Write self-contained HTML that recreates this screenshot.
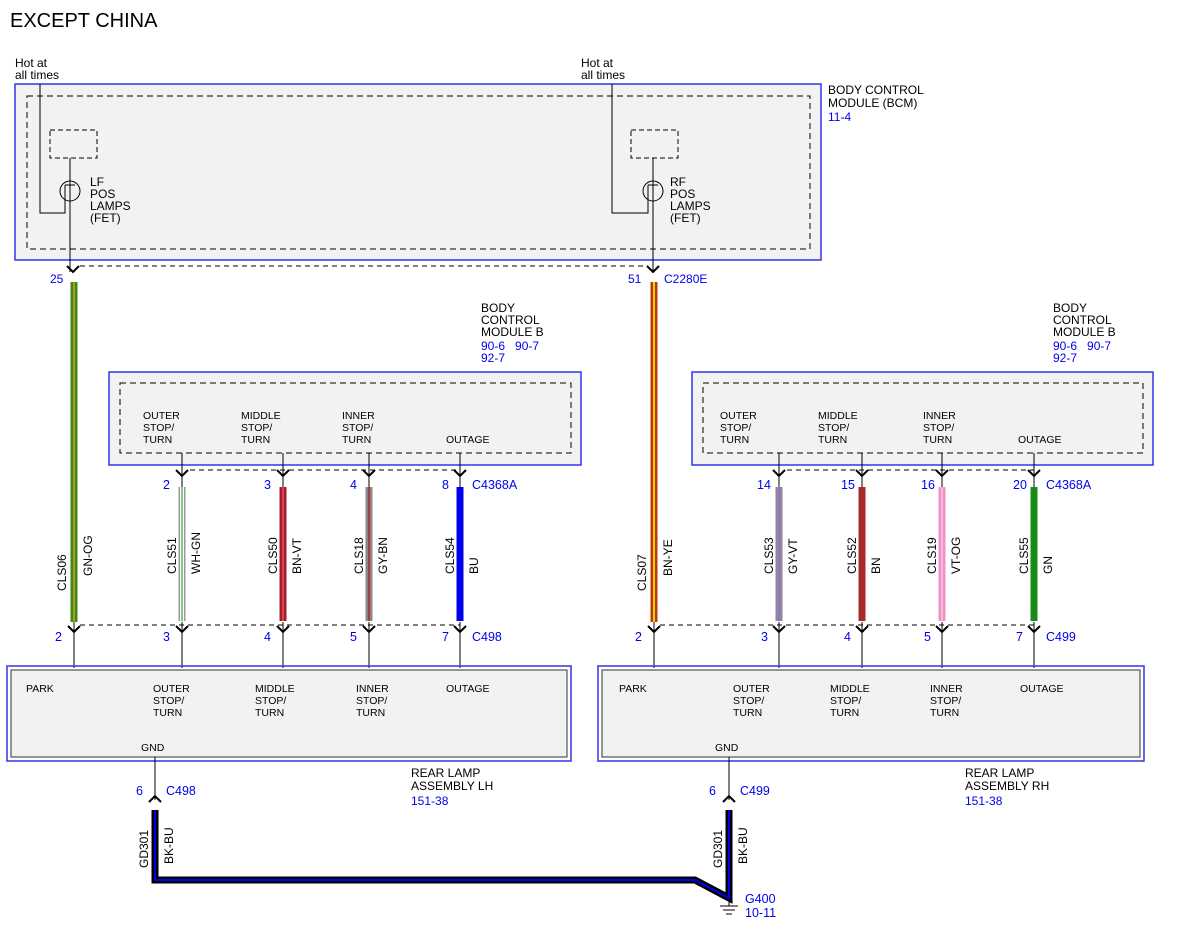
<!DOCTYPE html>
<html><head><meta charset="utf-8"><style>
body{margin:0;background:#fff}
svg{display:block;font-family:"Liberation Sans",sans-serif;font-size:12px}
.b{fill:#0000ee}
.k{fill:#000}
</style></head><body>
<svg width="1200" height="927" viewBox="0 0 1200 927">
<defs>
<g id="dn"><path d="M-6,-6 L0,0 L6,-6" fill="none" stroke="#000" stroke-width="2"/></g>
</defs>
<text x="10" y="27" font-size="20" class="k">EXCEPT CHINA</text>

<rect x="15" y="84" width="806" height="176" fill="#f2f2f2" stroke="#3333ee" stroke-width="1.5"/>
<rect x="27" y="96" width="783" height="153" fill="none" stroke="#000" stroke-dasharray="6,4"/>
<text x="15" y="67">Hot at</text><text x="15" y="79">all times</text>
<text x="581" y="67">Hot at</text><text x="581" y="79">all times</text>
<text x="828" y="94">BODY CONTROL</text><text x="828" y="107">MODULE (BCM)</text><text x="828" y="121" class="b">11-4</text>
<g fill="none" stroke="#000">
<rect x="50" y="130" width="47" height="28" stroke-dasharray="5,3"/>
<rect x="631" y="130" width="47" height="28" stroke-dasharray="5,3"/>
<path d="M40,84V213H65V185"/><circle cx="70" cy="191" r="10"/><path d="M65,185H75M70,158V272"/>
<path d="M612,84V213H648V185"/><circle cx="653" cy="191" r="10"/><path d="M648,185H658M653,158V272"/>
<path d="M80,266H648" stroke-dasharray="5,4"/>
</g>
<text x="90" y="186">LF</text><text x="90" y="198">POS</text><text x="90" y="210">LAMPS</text><text x="90" y="222">(FET)</text>
<text x="670" y="186">RF</text><text x="670" y="198">POS</text><text x="670" y="210">LAMPS</text><text x="670" y="222">(FET)</text>
<use href="#dn" x="73" y="272"/><use href="#dn" x="653" y="272"/>
<text x="50" y="283" class="b">25</text><text x="628" y="283" class="b">51</text><text x="664" y="283" class="b">C2280E</text>

<line x1="74" y1="282" x2="74" y2="622" stroke="#3a8a1a" stroke-width="7"/>
<line x1="74" y1="282" x2="74" y2="622" stroke="#d8a020" stroke-width="1.5"/>
<line x1="654" y1="282" x2="654" y2="622" stroke="#b83a10" stroke-width="7"/>
<line x1="654" y1="282" x2="654" y2="622" stroke="#f0d000" stroke-width="2"/>
<text transform="translate(66,591) rotate(-90)">CLS06</text><text transform="translate(92,576) rotate(-90)">GN-OG</text>
<text transform="translate(646,591) rotate(-90)">CLS07</text><text transform="translate(672,576) rotate(-90)">BN-YE</text>

<text x="481" y="312">BODY</text><text x="481" y="324">CONTROL</text><text x="481" y="336">MODULE B</text>
<text x="481" y="350" class="b">90-6 &#160;&#160;90-7</text><text x="481" y="362" class="b">92-7</text>
<rect x="109" y="372" width="472" height="93" fill="#f2f2f2" stroke="#3333ee" stroke-width="1.5"/>
<rect x="120" y="383" width="451" height="70" fill="none" stroke="#000" stroke-dasharray="6,4"/>
<g font-size="10.5">
<text x="143" y="419">OUTER</text><text x="143" y="431">STOP/</text><text x="143" y="443">TURN</text>
<text x="241" y="419">MIDDLE</text><text x="241" y="431">STOP/</text><text x="241" y="443">TURN</text>
<text x="342" y="419">INNER</text><text x="342" y="431">STOP/</text><text x="342" y="443">TURN</text>
<text x="446" y="443">OUTAGE</text>
</g>
<text x="1053" y="312">BODY</text><text x="1053" y="324">CONTROL</text><text x="1053" y="336">MODULE B</text>
<text x="1053" y="350" class="b">90-6 &#160;&#160;90-7</text><text x="1053" y="362" class="b">92-7</text>
<rect x="692" y="372" width="461" height="93" fill="#f2f2f2" stroke="#3333ee" stroke-width="1.5"/>
<rect x="703" y="383" width="440" height="70" fill="none" stroke="#000" stroke-dasharray="6,4"/>
<g font-size="10.5">
<text x="720" y="419">OUTER</text><text x="720" y="431">STOP/</text><text x="720" y="443">TURN</text>
<text x="818" y="419">MIDDLE</text><text x="818" y="431">STOP/</text><text x="818" y="443">TURN</text>
<text x="923" y="419">INNER</text><text x="923" y="431">STOP/</text><text x="923" y="443">TURN</text>
<text x="1018" y="443">OUTAGE</text>
</g>

<g fill="none" stroke="#000">
<path d="M182,453V487M283,453V487M369,453V487M460,453V487M779,453V487M862,453V487M942,453V487M1034,453V487"/>
<path d="M190,470H460M787,470H1034" stroke-dasharray="5,4"/>
<path d="M80,625H460M660,625H1034" stroke-dasharray="5,4"/>
<path d="M74,622V668M182,622V668M283,622V668M369,622V668M460,622V668M654,622V668M779,622V668M862,622V668M942,622V668M1034,622V668"/>
</g>
<g>
<use href="#dn" x="182" y="476"/><use href="#dn" x="283" y="476"/><use href="#dn" x="369" y="476"/><use href="#dn" x="460" y="476"/>
<use href="#dn" x="779" y="476"/><use href="#dn" x="862" y="476"/><use href="#dn" x="942" y="476"/><use href="#dn" x="1034" y="476"/>
<use href="#dn" x="74" y="632"/><use href="#dn" x="182" y="632"/><use href="#dn" x="283" y="632"/><use href="#dn" x="369" y="632"/><use href="#dn" x="460" y="632"/>
<use href="#dn" x="654" y="632"/><use href="#dn" x="779" y="632"/><use href="#dn" x="862" y="632"/><use href="#dn" x="942" y="632"/><use href="#dn" x="1034" y="632"/>
</g>
<g class="b" font-size="12.5">
<text x="163" y="489">2</text><text x="264" y="489">3</text><text x="350" y="489">4</text><text x="442" y="489">8</text><text x="472" y="489">C4368A</text>
<text x="757" y="489">14</text><text x="841" y="489">15</text><text x="921" y="489">16</text><text x="1013" y="489">20</text><text x="1046" y="489">C4368A</text>
<text x="55" y="641">2</text><text x="163" y="641">3</text><text x="264" y="641">4</text><text x="350" y="641">5</text><text x="442" y="641">7</text><text x="472" y="641">C498</text>
<text x="635" y="641">2</text><text x="761" y="641">3</text><text x="844" y="641">4</text><text x="924" y="641">5</text><text x="1016" y="641">7</text><text x="1046" y="641">C499</text>
</g>
<line x1="182" y1="487" x2="182" y2="621" stroke="#999" stroke-width="7"/>
<line x1="182" y1="487" x2="182" y2="621" stroke="#fff" stroke-width="4"/>
<line x1="182" y1="487" x2="182" y2="621" stroke="#5cb85c" stroke-width="1.5"/>
<line x1="283" y1="487" x2="283" y2="621" stroke="#a02030" stroke-width="7"/>
<line x1="283" y1="487" x2="283" y2="621" stroke="#e04050" stroke-width="2"/>
<line x1="369" y1="487" x2="369" y2="621" stroke="#888" stroke-width="7"/>
<line x1="369" y1="487" x2="369" y2="621" stroke="#a04040" stroke-width="2"/>
<line x1="460" y1="487" x2="460" y2="621" stroke="#0000ee" stroke-width="7"/>
<line x1="779" y1="487" x2="779" y2="621" stroke="#8a8a9a" stroke-width="7"/>
<line x1="779" y1="487" x2="779" y2="621" stroke="#9a70c0" stroke-width="2"/>
<line x1="862" y1="487" x2="862" y2="621" stroke="#a52a2a" stroke-width="7"/>
<line x1="942" y1="487" x2="942" y2="621" stroke="#f090c8" stroke-width="7"/>
<line x1="942" y1="487" x2="942" y2="621" stroke="#f8b8d8" stroke-width="2"/>
<line x1="1034" y1="487" x2="1034" y2="621" stroke="#1a8a1a" stroke-width="7"/>
<g>
<text transform="translate(176,574) rotate(-90)">CLS51</text><text transform="translate(200,574) rotate(-90)">WH-GN</text>
<text transform="translate(277,574) rotate(-90)">CLS50</text><text transform="translate(301,574) rotate(-90)">BN-VT</text>
<text transform="translate(363,574) rotate(-90)">CLS18</text><text transform="translate(387,574) rotate(-90)">GY-BN</text>
<text transform="translate(454,574) rotate(-90)">CLS54</text><text transform="translate(478,574) rotate(-90)">BU</text>
<text transform="translate(773,574) rotate(-90)">CLS53</text><text transform="translate(797,574) rotate(-90)">GY-VT</text>
<text transform="translate(856,574) rotate(-90)">CLS52</text><text transform="translate(880,574) rotate(-90)">BN</text>
<text transform="translate(936,574) rotate(-90)">CLS19</text><text transform="translate(960,574) rotate(-90)">VT-OG</text>
<text transform="translate(1028,574) rotate(-90)">CLS55</text><text transform="translate(1052,574) rotate(-90)">GN</text>
</g>

<rect x="7" y="666" width="564" height="95" fill="none" stroke="#3333ee" stroke-width="1.5"/>
<rect x="11" y="670" width="556" height="87" fill="#f2f2f2" stroke="#333"/>
<rect x="598" y="666" width="546" height="95" fill="none" stroke="#3333ee" stroke-width="1.5"/>
<rect x="602" y="670" width="538" height="87" fill="#f2f2f2" stroke="#333"/>
<g font-size="10.5">
<text x="26" y="692">PARK</text>
<text x="153" y="692">OUTER</text><text x="153" y="704">STOP/</text><text x="153" y="716">TURN</text>
<text x="255" y="692">MIDDLE</text><text x="255" y="704">STOP/</text><text x="255" y="716">TURN</text>
<text x="356" y="692">INNER</text><text x="356" y="704">STOP/</text><text x="356" y="716">TURN</text>
<text x="446" y="692">OUTAGE</text>
<text x="141" y="751">GND</text>
<text x="619" y="692">PARK</text>
<text x="733" y="692">OUTER</text><text x="733" y="704">STOP/</text><text x="733" y="716">TURN</text>
<text x="830" y="692">MIDDLE</text><text x="830" y="704">STOP/</text><text x="830" y="716">TURN</text>
<text x="930" y="692">INNER</text><text x="930" y="704">STOP/</text><text x="930" y="716">TURN</text>
<text x="1020" y="692">OUTAGE</text>
<text x="715" y="751">GND</text>
</g>
<text x="411" y="777">REAR LAMP</text><text x="411" y="790">ASSEMBLY LH</text><text x="411" y="805" class="b">151-38</text>
<text x="965" y="777">REAR LAMP</text><text x="965" y="790">ASSEMBLY RH</text><text x="965" y="805" class="b">151-38</text>

<g fill="none" stroke="#000">
<path d="M155,757V800M729,757V800"/>
<path d="M149,802L155,796L161,802M723,802L729,796L735,802" stroke-width="2"/>
<path d="M729,898V906M720,906H738M723,910H735M726,914H732"/>
</g>
<text x="136" y="795" class="b" font-size="12.5">6</text><text x="166" y="795" class="b" font-size="12.5">C498</text>
<text x="709" y="795" class="b" font-size="12.5">6</text><text x="740" y="795" class="b" font-size="12.5">C499</text>
<path d="M155,810V880H695L729,898V810" fill="none" stroke="#000" stroke-width="7" stroke-linejoin="miter"/>
<path d="M155,810V880H695L729,898V810" fill="none" stroke="#0000ee" stroke-width="2"/>
<text transform="translate(148,868) rotate(-90)">GD301</text><text transform="translate(173,864) rotate(-90)">BK-BU</text>
<text transform="translate(722,868) rotate(-90)">GD301</text><text transform="translate(747,864) rotate(-90)">BK-BU</text>
<text x="745" y="903" class="b" font-size="12.5">G400</text><text x="745" y="917" class="b" font-size="12.5">10-11</text>
</svg>
</body></html>
